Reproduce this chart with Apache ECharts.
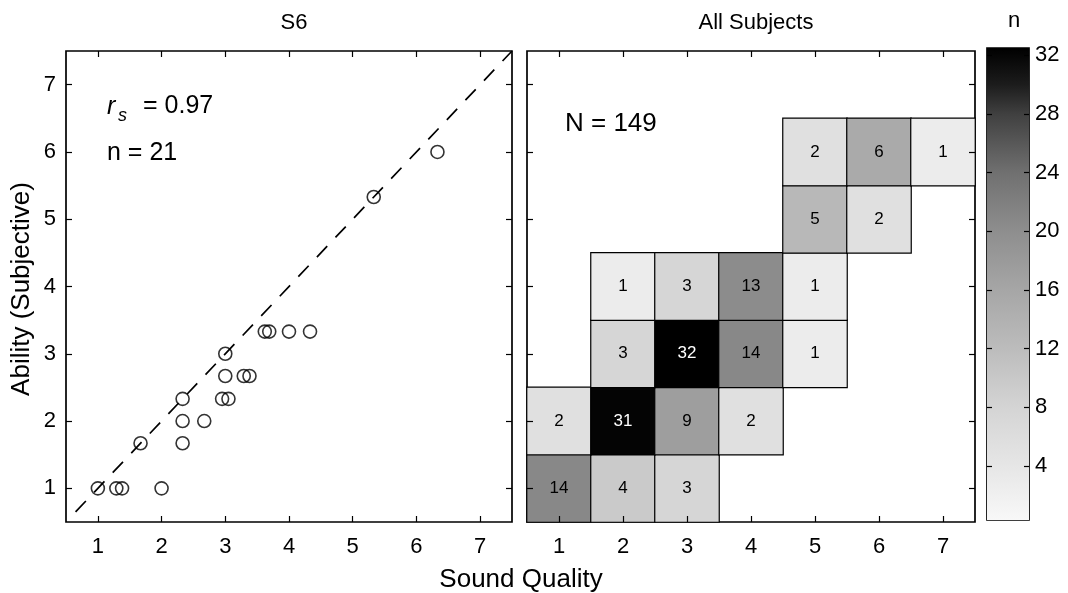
<!DOCTYPE html>
<html><head><meta charset="utf-8">
<script src="https://cdn.jsdelivr.net/npm/echarts@6/dist/echarts.min.js"></script>
<style>html,body{margin:0;padding:0;background:#fff}#c{width:1068px;height:593px}</style>
</head><body><div id="c"></div>
<script>
// ---- data ----
const ticks = [1, 2, 3, 4, 5, 6, 7];
const categories = ['1', '2', '3', '4', '5', '6', '7'];
const s6Quality = [1, 1.29, 1.38, 2, 1.67, 2.33, 2.33, 2.33, 2.67, 2.95, 3.05, 3, 3, 3.29, 3.38, 3.62, 3.69, 4, 4.33, 5.33, 6.33];
const s6Ability = [1, 1, 1, 1, 1.67, 1.67, 2, 2.33, 2, 2.33, 2.33, 2.67, 3, 2.67, 2.67, 3.33, 3.33, 3.33, 3.33, 5.33, 6];
const identityLine = [0.65, 7.5];
const cellQuality = [1, 2, 3, 1, 2, 3, 4, 2, 3, 4, 5, 2, 3, 4, 5, 5, 6, 5, 6, 7];
const cellAbility = [1, 1, 1, 2, 2, 2, 2, 3, 3, 3, 3, 4, 4, 4, 4, 5, 5, 6, 6, 6];
const cellCount   = [14, 4, 3, 2, 31, 9, 2, 3, 32, 14, 1, 1, 3, 13, 1, 5, 2, 2, 6, 1];
const colorbarTicks = [4, 8, 12, 16, 20, 24, 28, 32];
const colorbarRange = [0.3, 32.5];

// ---- styles ----
const FONT = 'Liberation Sans, Arial, Helvetica, sans-serif';
const cellStops = [[1,236],[2,224],[3,214],[4,202],[5,184],[6,170],[9,158],[13,140],[14,136],[20,106],[26,64],[30,16],[31,4],[32,0]];
const barStops  = [[0.3,248],[4,230],[8,212],[12,188],[16,166],[20,142],[24,112],[28,64],[30,28],[32.5,0]];
function grayAt(stops, v) {
  for (let i = 1; i < stops.length; i++) {
    if (v <= stops[i][0]) {
      const [v0, g0] = stops[i - 1], [v1, g1] = stops[i];
      const g = Math.round(g0 + (g1 - g0) * (v - v0) / (v1 - v0));
      return 'rgb(' + g + ',' + g + ',' + g + ')';
    }
  }
  const g = stops[stops.length - 1][1];
  return 'rgb(' + g + ',' + g + ',' + g + ')';
}
const vmColors = [];
for (let v = 1; v <= 32; v++) vmColors.push(grayAt(cellStops, v));

const tickStyle = { show: true, inside: true, length: 6, lineStyle: { color: '#000', width: 1.2 } };
const labelStyle = { color: '#000', fontSize: 22, fontFamily: FONT };
const titleStyle = { fontSize: 22, fontWeight: 'normal', color: '#000', fontFamily: FONT };

const chart = echarts.init(document.getElementById('c'));
chart.setOption({
  animation: false,
  backgroundColor: '#fff',
  textStyle: { fontFamily: FONT },
  title: [
    { text: 'S6', left: 289, top: 7, textAlign: 'center', textStyle: titleStyle },
    { text: 'All Subjects', left: 751, top: 7, textAlign: 'center', textStyle: titleStyle },
    { text: 'n', left: 1009, top: 5, textAlign: 'center', textStyle: titleStyle }
  ],
  grid: [
    { left: 66, top: 51, width: 446, height: 471, show: true, borderColor: '#000', borderWidth: 1.7, backgroundColor: 'transparent' },
    { left: 527, top: 51, width: 448, height: 471, show: true, borderColor: '#000', borderWidth: 1.7, backgroundColor: 'transparent' },
    { left: 987, top: 48, width: 42, height: 472, show: true, borderColor: '#000', borderWidth: 1.7, backgroundColor: 'transparent' }
  ],
  xAxis: [
    { gridIndex: 0, type: 'value', min: 0.5, max: 7.5, position: 'bottom', axisLine: { show: false }, splitLine: { show: false },
      axisTick: Object.assign({ customValues: ticks }, tickStyle), axisLabel: Object.assign({ customValues: ticks, margin: 14 }, labelStyle) },
    { gridIndex: 0, type: 'value', min: 0.5, max: 7.5, position: 'top', axisLine: { show: false }, splitLine: { show: false },
      axisTick: Object.assign({ customValues: ticks }, tickStyle), axisLabel: { show: false } },
    { gridIndex: 1, type: 'category', data: categories, position: 'bottom', z: 5, axisLine: { show: false }, splitLine: { show: false },
      axisTick: Object.assign({ alignWithLabel: true, interval: 0 }, tickStyle), axisLabel: Object.assign({ interval: 0, margin: 14 }, labelStyle) },
    { gridIndex: 1, type: 'category', data: categories, position: 'top', z: 5, axisLine: { show: false }, splitLine: { show: false },
      axisTick: Object.assign({ alignWithLabel: true, interval: 0 }, tickStyle), axisLabel: { show: false } },
    { gridIndex: 2, type: 'value', min: 0, max: 1, show: false }
  ],
  yAxis: [
    { gridIndex: 0, type: 'value', min: 0.5, max: 7.5, position: 'left', axisLine: { show: false }, splitLine: { show: false },
      axisTick: Object.assign({ customValues: ticks }, tickStyle), axisLabel: Object.assign({ customValues: ticks, margin: 10 }, labelStyle) },
    { gridIndex: 0, type: 'value', min: 0.5, max: 7.5, position: 'right', axisLine: { show: false }, splitLine: { show: false },
      axisTick: Object.assign({ customValues: ticks }, tickStyle), axisLabel: { show: false } },
    { gridIndex: 1, type: 'category', data: categories, position: 'left', z: 5, axisLine: { show: false }, splitLine: { show: false },
      axisTick: Object.assign({ alignWithLabel: true, interval: 0 }, tickStyle), axisLabel: { show: false } },
    { gridIndex: 1, type: 'category', data: categories, position: 'right', z: 5, axisLine: { show: false }, splitLine: { show: false },
      axisTick: Object.assign({ alignWithLabel: true, interval: 0 }, tickStyle), axisLabel: { show: false } },
    { gridIndex: 2, type: 'value', min: colorbarRange[0], max: colorbarRange[1], position: 'left', z: 5, axisLine: { show: false }, splitLine: { show: false },
      axisTick: Object.assign({ customValues: colorbarTicks }, tickStyle, { length: 5 }), axisLabel: { show: false } },
    { gridIndex: 2, type: 'value', min: colorbarRange[0], max: colorbarRange[1], position: 'right', z: 5, axisLine: { show: false }, splitLine: { show: false },
      axisTick: Object.assign({ customValues: colorbarTicks }, tickStyle, { length: 5 }), axisLabel: Object.assign({ customValues: colorbarTicks, margin: 6 }, labelStyle) }
  ],
  visualMap: {
    type: 'continuous', show: false, seriesIndex: 2, dimension: 2, min: 1, max: 32,
    inRange: { color: vmColors }
  },
  series: [
    { type: 'scatter', xAxisIndex: 0, yAxisIndex: 0, symbol: 'circle', symbolSize: 13, z: 3,
      itemStyle: { color: 'rgba(255,255,255,0)', borderColor: '#000', borderWidth: 1.6 },
      data: s6Quality.map((q, i) => [q, s6Ability[i]]) },
    { type: 'line', xAxisIndex: 0, yAxisIndex: 0, symbol: 'none', z: 2,
      lineStyle: { color: '#000', width: 1.7, type: [15, 12] },
      data: identityLine.map(v => [v, v]) },
    { type: 'heatmap', xAxisIndex: 2, yAxisIndex: 2,
      itemStyle: { borderColor: '#000', borderWidth: 1.2 },
      label: { show: true, fontSize: 17, fontFamily: FONT, color: '#000', formatter: p => p.value[2] },
      data: cellCount.map((n, i) => ({ value: [cellQuality[i] - 1, cellAbility[i] - 1, n], label: { color: n >= 30 ? '#fff' : '#000' } })) },
    { type: 'custom', xAxisIndex: 4, yAxisIndex: 4, z: 1,
      renderItem: function (params, api) {
        const p0 = api.coord([0, colorbarRange[0]]);
        const p1 = api.coord([1, colorbarRange[1]]);
        const span = colorbarRange[1] - colorbarRange[0];
        const stops = barStops.map(s => ({ offset: (s[0] - colorbarRange[0]) / span, color: grayAt(barStops, s[0]) }));
        return { type: 'rect', shape: { x: p0[0], y: p1[1], width: p1[0] - p0[0], height: p0[1] - p1[1] },
          style: { fill: new echarts.graphic.LinearGradient(0, 1, 0, 0, stops) } };
      },
      data: [[0, 0]] }
  ],
  graphic: [
    { type: 'text', x: 107, y: 107, style: { text: 'r', fontSize: 25, fontStyle: 'italic', fontFamily: FONT, fill: '#000', textVerticalAlign: 'middle' } },
    { type: 'text', x: 118, y: 116, style: { text: 's', fontSize: 18, fontStyle: 'italic', fontFamily: FONT, fill: '#000', textVerticalAlign: 'middle' } },
    { type: 'text', x: 143, y: 106, style: { text: '= 0.97', fontSize: 25, fontFamily: FONT, fill: '#000', textVerticalAlign: 'middle' } },
    { type: 'text', x: 107, y: 153, style: { text: 'n = 21', fontSize: 25, fontFamily: FONT, fill: '#000', textVerticalAlign: 'middle' } },
    { type: 'text', x: 565, y: 124, style: { text: 'N = 149', fontSize: 26, fontFamily: FONT, fill: '#000', textVerticalAlign: 'middle' } },
    { type: 'text', x: 521, y: 580, style: { text: 'Sound Quality', fontSize: 26, fontFamily: FONT, fill: '#000', textAlign: 'center', textVerticalAlign: 'middle' } },
    { type: 'text', x: 22, y: 289, rotation: Math.PI / 2, style: { text: 'Ability (Subjective)', fontSize: 26, fontFamily: FONT, fill: '#000', textAlign: 'center', textVerticalAlign: 'middle' } }
  ]
});
</script></body></html>
